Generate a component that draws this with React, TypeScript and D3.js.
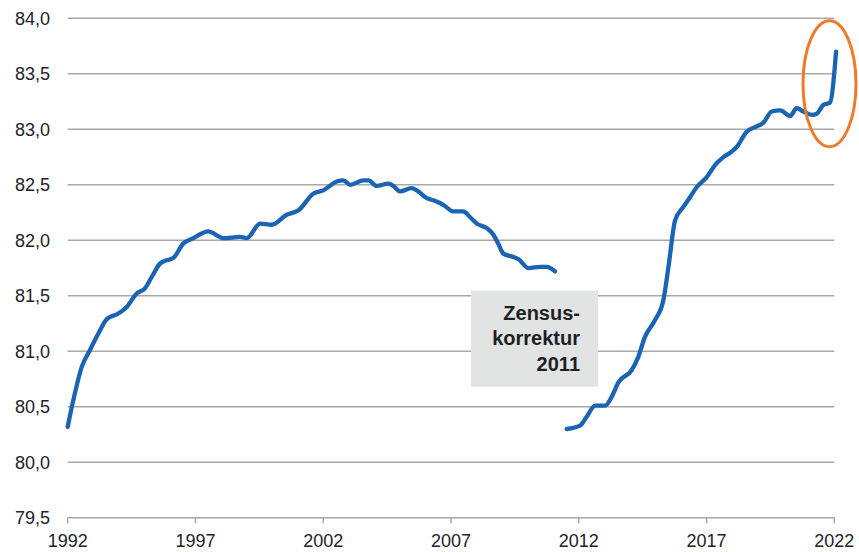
import React from "react";
import * as d3 from "d3";

const years1 = [1992.0, 1992.22, 1992.55, 1992.87, 1993.2, 1993.53, 1993.98, 1994.31, 1994.7, 1995.03, 1995.29, 1995.61, 1995.87, 1996.13, 1996.52, 1996.92, 1997.5, 1998.09, 1998.74, 1999.01, 1999.53, 1999.98, 2000.57, 2001.03, 2001.61, 2002.0, 2002.53, 2002.79, 2003.05, 2003.57, 2003.77, 2004.09, 2004.55, 2004.74, 2005.01, 2005.46, 2005.66, 2006.05, 2006.31, 2006.7, 2007.09, 2007.48, 2007.74, 2008.01, 2008.4, 2008.66, 2008.85, 2009.05, 2009.44, 2009.64, 2010.03, 2010.49, 2010.75, 2011.07];
const values1 = [80.32, 80.56, 80.86, 81.01, 81.16, 81.29, 81.34, 81.40, 81.52, 81.57, 81.67, 81.79, 81.82, 81.84, 81.97, 82.02, 82.08, 82.02, 82.03, 82.02, 82.15, 82.14, 82.23, 82.27, 82.42, 82.45, 82.53, 82.54, 82.50, 82.54, 82.54, 82.49, 82.51, 82.49, 82.44, 82.47, 82.45, 82.38, 82.36, 82.32, 82.26, 82.26, 82.21, 82.15, 82.11, 82.05, 81.97, 81.88, 81.85, 81.83, 81.75, 81.76, 81.76, 81.72];

const years2 = [2011.53, 2012.05, 2012.31, 2012.64, 2013.03, 2013.29, 2013.55, 2014.07, 2014.33, 2014.59, 2014.98, 2015.31, 2015.51, 2015.77, 2016.09, 2016.36, 2016.62, 2017.01, 2017.34, 2017.66, 2017.99, 2018.18, 2018.58, 2018.9, 2019.23, 2019.55, 2019.88, 2020.27, 2020.53, 2020.79, 2021.12, 2021.31, 2021.57, 2021.83, 2022.07];
const values2 = [80.30, 80.33, 80.41, 80.51, 80.51, 80.59, 80.72, 80.83, 80.95, 81.13, 81.28, 81.46, 81.76, 82.18, 82.30, 82.39, 82.48, 82.57, 82.68, 82.75, 82.80, 82.84, 82.98, 83.02, 83.06, 83.16, 83.17, 83.12, 83.19, 83.16, 83.13, 83.14, 83.22, 83.24, 83.70];

const yTicks = [79.5, 80.0, 80.5, 81.0, 81.5, 82.0, 82.5, 83.0, 83.5, 84.0];
const xTicks = [1992, 1997, 2002, 2007, 2012, 2017, 2022];
const noteLines = ["Zensus-", "korrektur", "2011"];

const W = 859;
const H = 552;

export default function App() {
  const x = d3.scaleLinear().domain([1992, 2022]).range([67.7, 834.3]);
  const y = d3.scaleLinear().domain([79.5, 84.0]).range([517.8, 18.3]);
  const line = d3
    .line<[number, number]>()
    .x((d) => x(d[0]))
    .y((d) => y(d[1]))
    .curve(d3.curveMonotoneX);
  const seg1 = years1.map((yr, i) => [yr, values1[i]] as [number, number]);
  const seg2 = years2.map((yr, i) => [yr, values2[i]] as [number, number]);
  const fmt = (v: number) => v.toFixed(1).replace(".", ",");
  const font = "'Liberation Sans', Arial, sans-serif";

  return (
    <svg
      width={W}
      height={H}
      style={{ position: "absolute", left: 0, top: 0, background: "#fff" }}
      fontFamily={font}
    >
      {yTicks.map((t) => (
        <g key={t}>
          <line
            x1={x(1992)}
            x2={x(2022)}
            y1={y(t)}
            y2={y(t)}
            stroke="#a8a8a8"
            strokeWidth={1.5}
          />
          <text
            x={50}
            y={y(t)}
            dy="0.36em"
            textAnchor="end"
            fontSize={18}
            fill="#22222c"
          >
            {fmt(t)}
          </text>
        </g>
      ))}
      {xTicks.map((t) => (
        <g key={t}>
          <line
            x1={x(t)}
            x2={x(t)}
            y1={y(79.5)}
            y2={y(79.5) + 5.5}
            stroke="#a8a8a8"
            strokeWidth={1.5}
          />
          <text
            x={x(t)}
            y={547}
            textAnchor="middle"
            fontSize={18}
            fill="#22222c"
          >
            {t}
          </text>
        </g>
      ))}
      <rect x={471} y={290.7} width={127} height={96} fill="#e2e3e3" />
      {noteLines.map((s, i) => (
        <text
          key={s}
          x={580}
          y={319.5 + i * 25.5}
          textAnchor="end"
          fontSize={20}
          fontWeight="bold"
          fill="#1e1e24"
        >
          {s}
        </text>
      ))}
      <path
        d={line(seg1) || ""}
        fill="none"
        stroke="#1b63b3"
        strokeWidth={4.3}
        strokeLinejoin="round"
        strokeLinecap="round"
      />
      <path
        d={line(seg2) || ""}
        fill="none"
        stroke="#1b63b3"
        strokeWidth={4.3}
        strokeLinejoin="round"
        strokeLinecap="round"
      />
      <ellipse
        cx={829.5}
        cy={83.7}
        rx={26.5}
        ry={63}
        fill="none"
        stroke="#ef7a2a"
        strokeWidth={3}
      />
    </svg>
  );
}
